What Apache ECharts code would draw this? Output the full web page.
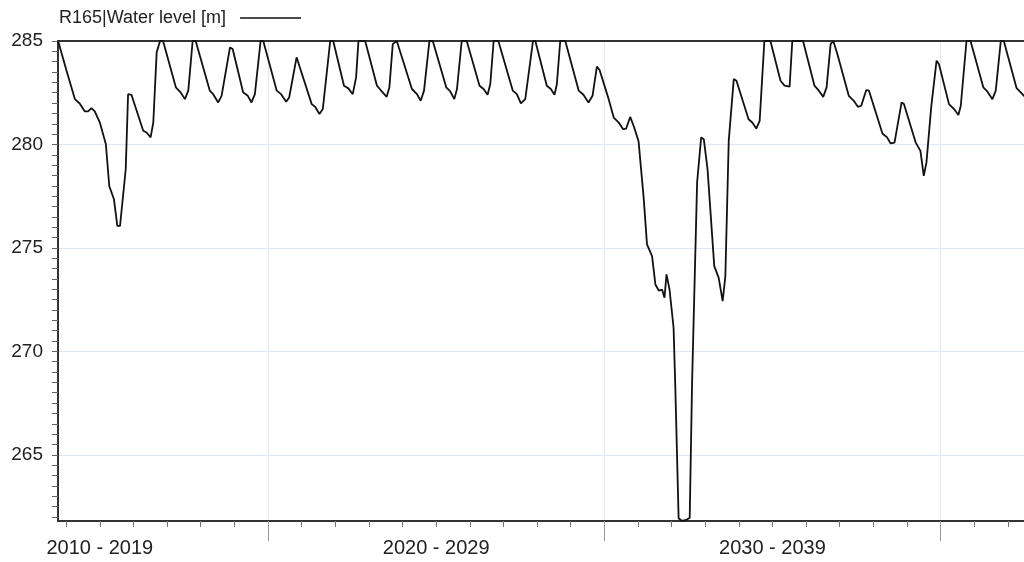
<!DOCTYPE html>
<html>
<head>
<meta charset="utf-8">
<script src="https://cdn.jsdelivr.net/npm/echarts@6/dist/echarts.min.js"></script>
<style>
html,body{margin:0;padding:0;background:#fff;}
#chart{width:1024px;height:562px;}
</style>
</head>
<body>
<div id="chart"></div>
<script>
// ---- data (decimal year, water level in m) ----
const seriesName = 'R165|Water level [m]';
const years = [
 2013.76,2014.01,2014.26,2014.40,2014.55,2014.65,2014.75,2014.85,2015.00,2015.18,2015.28,2015.42,2015.52,2015.60,2015.77,2015.84,2015.94,
 2016.29,2016.39,2016.51,2016.59,2016.69,2016.79,2016.88,
 2017.26,2017.40,2017.53,2017.63,2017.76,2017.85,
 2018.27,2018.37,2018.52,2018.62,2018.87,2018.95,
 2019.26,2019.40,2019.51,2019.61,2019.78,2019.86,
 2020.26,2020.39,2020.54,2020.63,2020.85,2020.90,
 2021.30,2021.40,2021.53,2021.63,2021.85,2021.94,
 2022.26,2022.39,2022.52,2022.62,2022.69,2022.89,
 2023.24,2023.35,2023.53,2023.61,2023.71,2023.83,
 2024.28,2024.43,2024.54,2024.64,2024.80,2024.90,
 2025.30,2025.42,2025.54,2025.62,2025.76,2025.91,
 2026.29,2026.41,2026.53,2026.61,2026.71,2026.85,
 2027.28,2027.40,2027.52,2027.65,2027.88,2027.95,
 2028.29,2028.41,2028.52,2028.59,2028.69,2028.84,
 2029.24,2029.38,2029.53,2029.65,2029.78,2029.86,
 2030.13,2030.28,2030.43,2030.56,2030.65,2030.77,2030.89,2031.02,2031.17,2031.27,2031.42,2031.52,2031.62,2031.72,2031.79,2031.85,2031.94,
 2032.06,2032.11,2032.21,2032.31,2032.44,2032.54,2032.61,2032.76,2032.88,2032.96,
 2033.07,2033.27,2033.40,2033.52,2033.60,2033.70,2033.85,2033.93,
 2034.29,2034.40,2034.52,2034.62,2034.76,2034.94,
 2035.24,2035.36,2035.51,2035.59,2035.91,
 2036.25,2036.38,2036.51,2036.61,2036.73,2036.81,2036.93,
 2037.27,2037.42,2037.54,2037.64,2037.79,2037.87,
 2038.27,2038.41,2038.51,2038.63,2038.84,2038.91,
 2039.26,2039.40,2039.50,2039.58,2039.72,2039.88,2039.95,
 2040.25,2040.40,2040.53,2040.60,2040.77,2040.89,
 2041.27,2041.39,2041.54,2041.64,2041.79,2041.88,
 2042.26,2042.48,2042.55
];
const levels = [
 285.00,283.56,282.19,281.98,281.60,281.60,281.76,281.60,281.06,280.01,277.99,277.35,276.06,276.06,278.80,282.43,282.40,
 280.66,280.58,280.34,281.06,284.45,285.00,285.00,
 282.76,282.52,282.19,282.60,285.00,285.00,
 282.60,282.43,282.03,282.35,284.69,284.61,
 282.52,282.35,282.03,282.43,285.00,285.00,
 282.60,282.43,282.06,282.27,284.21,284.13,
 281.95,281.82,281.47,281.71,285.00,285.00,
 282.84,282.71,282.43,283.24,285.00,285.00,
 282.84,282.63,282.30,282.76,284.85,285.00,
 282.68,282.43,282.11,282.60,285.00,285.00,
 282.76,282.56,282.19,282.68,285.00,285.00,
 282.84,282.68,282.40,282.92,285.00,285.00,
 282.60,282.43,281.98,282.19,285.00,285.00,
 282.84,282.68,282.40,282.92,285.00,285.00,
 282.60,282.40,282.03,282.35,283.76,283.60,
 282.19,281.30,281.06,280.74,280.77,281.33,280.82,280.14,277.43,275.17,274.60,273.23,272.94,272.98,272.59,273.72,272.99,
 271.14,268.39,261.93,261.80,261.85,261.96,268.47,278.16,280.34,280.25,
 278.80,274.12,273.56,272.43,273.63,280.17,283.16,283.08,
 281.22,281.06,280.77,281.14,285.00,285.00,
 283.08,282.84,282.79,285.00,285.00,
 282.84,282.60,282.30,282.76,284.85,285.00,284.37,
 282.35,282.11,281.82,281.87,282.63,282.60,
 280.53,280.34,280.05,280.09,282.03,281.95,
 280.09,279.69,278.48,279.13,281.79,284.05,283.89,
 281.95,281.71,281.42,281.87,285.00,285.00,
 282.76,282.56,282.19,282.60,285.00,285.00,
 282.72,282.35,282.20
];
// ---- axes / ticks ----
const xMin = 2013.756, xMax = 2042.48;
const yMin = 261.8, yMax = 285;
const decadeTicks = [2020, 2030, 2040];
const xLabelValues = [2015, 2025, 2035];
const xLabelTexts = ['2010 - 2019', '2020 - 2029', '2030 - 2039'];
const yLabelValues = [265, 270, 275, 280, 285];
const yGridValues = [265, 270, 275, 280];

const yearTicks = [];
for (let y = 2014; y <= 2042; y++) if (decadeTicks.indexOf(y) < 0) yearTicks.push(y);
const yMinorTicks = [];
for (let v = 262; v <= 285; v += 0.5) yMinorTicks.push(v);

const seriesData = years.map((t, i) => [t, levels[i]]);

const FONT = '"Liberation Sans", Arial, sans-serif';
const chart = echarts.init(document.getElementById('chart'), null, {renderer: 'canvas'});
const baseX = {type: 'value', min: xMin, max: xMax, gridIndex: 0};
const baseY = {type: 'value', min: yMin, max: yMax, gridIndex: 0};
chart.setOption({
  animation: false,
  backgroundColor: '#ffffff',
  textStyle: {fontFamily: FONT},
  grid: {left: 58, right: 0, top: 41, bottom: 41, containLabel: false},
  legend: {
    data: [{name: seriesName, icon: 'rect'}],
    left: 54, top: 4,
    align: 'right',
    itemWidth: 61, itemHeight: 1.6,
    itemStyle: {color: '#111'},
    textStyle: {fontSize: 18, color: '#222', fontFamily: FONT, padding: [0, 9, 0, 0]}
  },
  xAxis: [
    Object.assign({}, baseX, {
      position: 'bottom',
      axisLine: {show: true, onZero: false, lineStyle: {color: '#333', width: 2}},
      axisTick: {show: true, customValues: yearTicks, length: 6, lineStyle: {color: '#777', width: 1}},
      axisLabel: {show: false},
      splitLine: {show: false}
    }),
    Object.assign({}, baseX, {
      position: 'bottom',
      axisLine: {show: false, onZero: false},
      axisTick: {show: true, customValues: decadeTicks, length: 20, lineStyle: {color: '#999', width: 1}},
      axisLabel: {show: false},
      splitLine: {show: true, lineStyle: {color: '#dfe6f6', width: 1}}
    }),
    Object.assign({}, baseX, {
      position: 'bottom',
      axisLine: {show: false, onZero: false},
      axisTick: {show: false},
      axisLabel: {
        show: true, customValues: xLabelValues, margin: 17,
        fontSize: 20, color: '#222', fontFamily: FONT,
        formatter: function (v) {
          const i = xLabelValues.indexOf(Math.round(v));
          return i >= 0 ? xLabelTexts[i] : '';
        }
      },
      splitLine: {show: false}
    }),
    Object.assign({}, baseX, {
      position: 'top',
      axisLine: {show: true, onZero: false, lineStyle: {color: '#333', width: 2}},
      axisTick: {show: false},
      axisLabel: {show: false},
      splitLine: {show: false}
    })
  ],
  yAxis: [
    Object.assign({}, baseY, {
      position: 'left',
      axisLine: {show: true, onZero: false, lineStyle: {color: '#333', width: 2}},
      axisTick: {show: true, customValues: yMinorTicks, length: 6, lineStyle: {color: '#666', width: 1}},
      axisLabel: {show: false},
      splitLine: {show: false}
    }),
    Object.assign({}, baseY, {
      position: 'left',
      axisLine: {show: false, onZero: false},
      axisTick: {show: false, customValues: yGridValues},
      axisLabel: {show: true, customValues: yLabelValues, margin: 15, fontSize: 19, color: '#222', fontFamily: FONT},
      splitLine: {show: true, lineStyle: {color: '#dfe6f6', width: 1}}
    })
  ],
  series: [{
    name: seriesName,
    type: 'line',
    xAxisIndex: 0, yAxisIndex: 0,
    data: seriesData,
    symbol: 'none',
    showSymbol: false,
    smooth: false,
    clip: true,
    lineStyle: {color: '#111', width: 1.8},
    itemStyle: {color: '#111'},
    z: 5
  }]
});
</script>
</body>
</html>
